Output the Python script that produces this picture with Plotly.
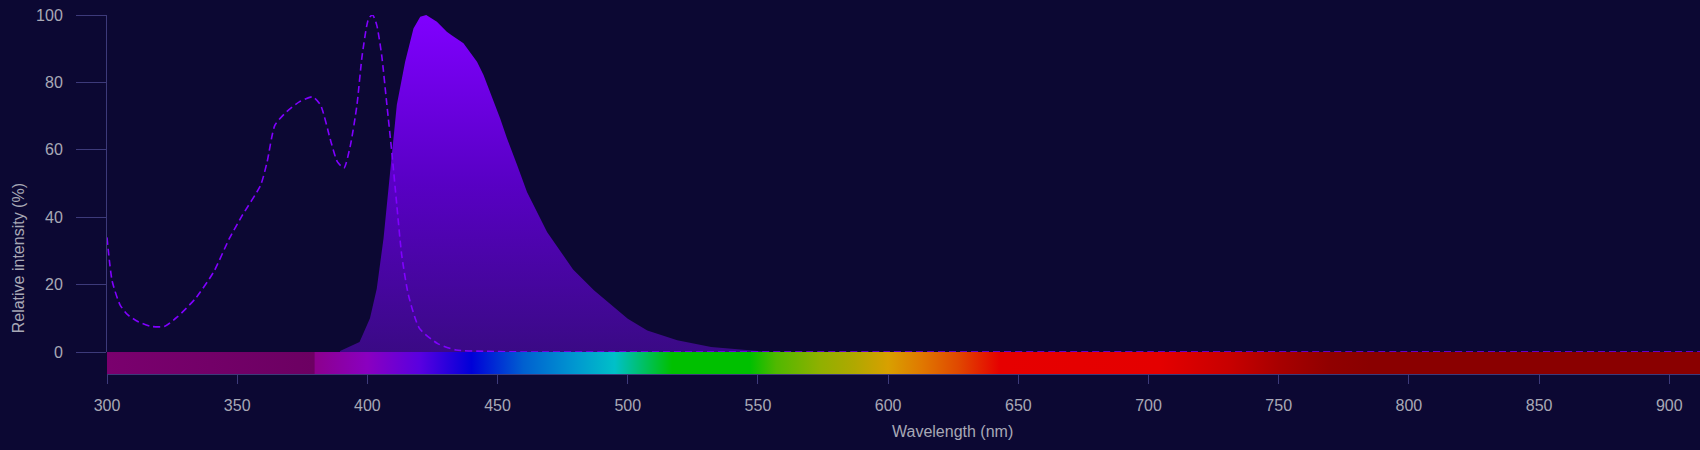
import plotly.graph_objects as go

# excitation spectrum (dashed)
exc_wl = [300, 302, 305, 308, 312, 317, 322, 327, 334, 341, 347, 352, 359, 361.5,
          364.5, 369, 374, 379, 382, 386, 388.5, 391, 393.5, 396, 398, 400.5, 402,
          403.6, 405.5, 407.5, 409.5, 411.3, 413.2, 415.8, 420, 427, 434, 445, 460,
          500, 600, 700, 800, 912]
exc_val = [34, 21, 14, 11, 9, 7.6, 7.6, 10.4, 15.9, 23.8, 33.7, 40.6, 49.5, 56.4,
           67.3, 71.3, 74.3, 75.7, 73.3, 62.4, 56.4, 54.6, 61.4, 73.3, 88, 99, 100,
           97, 88, 73.3, 58.4, 43.6, 28.7, 16.8, 7, 2.5, 0.6, 0.2, 0,
           0, 0, 0, 0, 0]

# emission spectrum (filled)
em_wl = [389.5, 393, 397, 401, 403.6, 406.2, 408.7, 411.3, 414.5, 417.7, 420.3,
         422.6, 426.7, 430.5, 432.5, 436.9, 442.1, 444.6, 451, 453.6, 457.5, 461.3,
         469, 479, 487, 500, 507.5, 519, 532, 546, 555]
em_val = [0.3, 1.5, 3, 10, 18.8, 33.7, 53.5, 73.3, 86.1, 96, 99.5,
          100, 98, 95, 93.9, 91.6, 86.1, 82.2, 69.3, 63.4, 55.5, 47.5,
          35.6, 24.5, 18.3, 9.9, 6.4, 3.5, 1.5, 0.5, 0]

# visible spectrum strip colour stops
strip_wl = [300, 379.5, 380, 400, 420, 440, 460, 480, 495, 517, 547, 557, 574, 587,
            600, 613, 627, 643, 704, 731, 750, 770, 785, 911.8]
strip_col = ["#7a006e", "#6c0062", "#8c008e", "#8a00c0", "#5a00e0", "#0000d8",
             "#0060d0", "#0098d0", "#00c0c8", "#00c000", "#00c000", "#50b800",
             "#90b000", "#b0a800", "#d8a000", "#e07800", "#e04800", "#e60000",
             "#e40000", "#c80000", "#a80000", "#900000", "#8a0000", "#8a0000"]

x_ticks = list(range(300, 901, 50))
y_ticks = list(range(0, 101, 20))

BG = "#0c0833"
AXIS = "#3d3a7a"
TEXT = "#a8a8b6"
FONT = "Liberation Sans, Arial, sans-serif"

x_min, x_max = strip_wl[0], strip_wl[-1]
strip_scale = [[(w - x_min) / (x_max - x_min), c] for w, c in zip(strip_wl, strip_col)]

fig = go.Figure()

fig.add_trace(go.Scatter(
    x=em_wl, y=em_val, mode="lines", fill="tozeroy",
    line=dict(width=0, color="#8000ff"),
    fillgradient=dict(type="vertical", start=0, stop=100,
                      colorscale=[[0, "#3a0a85"], [0.5, "#5800c4"], [1, "#8000ff"]]),
    name="Emission", hoverinfo="skip",
))

fig.add_trace(go.Scatter(
    x=exc_wl, y=exc_val, mode="lines",
    line=dict(color="#8000ff", width=1.6, dash="7px,4px", shape="spline", smoothing=0.6),
    name="Excitation", hoverinfo="skip",
))

# spectrum strip below zero
fig.add_trace(go.Scatter(
    x=[x_min, x_max, x_max, x_min, x_min], y=[0, 0, 1, 1, 0],
    xaxis="x", yaxis="y2", mode="lines", fill="toself",
    line=dict(width=0),
    fillgradient=dict(type="horizontal", start=x_min, stop=x_max, colorscale=strip_scale),
    hoverinfo="skip", showlegend=False,
))

strip_frac = 22 / 359

fig.update_layout(
    width=1700, height=450,
    margin=dict(l=107, r=0, t=15, b=76),
    paper_bgcolor=BG, plot_bgcolor=BG,
    font=dict(family=FONT, size=16, color=TEXT),
    showlegend=False,
    xaxis=dict(
        range=[x_min, x_max], anchor="y2", tickvals=x_ticks,
        showline=True, linecolor=AXIS, linewidth=1,
        ticks="outside", ticklen=9, tickcolor=AXIS,
        showgrid=False, zeroline=False, ticklabelstandoff=8,
    ),
    yaxis=dict(
        domain=[strip_frac, 1], range=[0, 100], tickvals=y_ticks,
        showline=True, linecolor=AXIS, linewidth=1,
        ticks="outside", ticklen=30, tickcolor=AXIS,
        showgrid=False, zeroline=False, ticklabelstandoff=10,
    ),
    yaxis2=dict(domain=[0, strip_frac], range=[0, 1], visible=False, anchor="x"),
    annotations=[
        dict(text="Wavelength (nm)", xref="paper", yref="paper", x=0.531, y=-0.161,
             xanchor="center", yanchor="middle", showarrow=False,
             font=dict(size=16, color=TEXT)),
        dict(text="Relative intensity (%)", xref="paper", yref="paper", x=-0.0557,
             y=0.323, xanchor="center", yanchor="middle", showarrow=False,
             textangle=-90, font=dict(size=16, color=TEXT)),
    ],
)

fig.write_html(
    "out.html",
    config={"displayModeBar": False},
    post_script="document.body.style.margin='0';document.body.style.overflow='hidden';"
                f"document.body.style.background='{BG}';",
)
